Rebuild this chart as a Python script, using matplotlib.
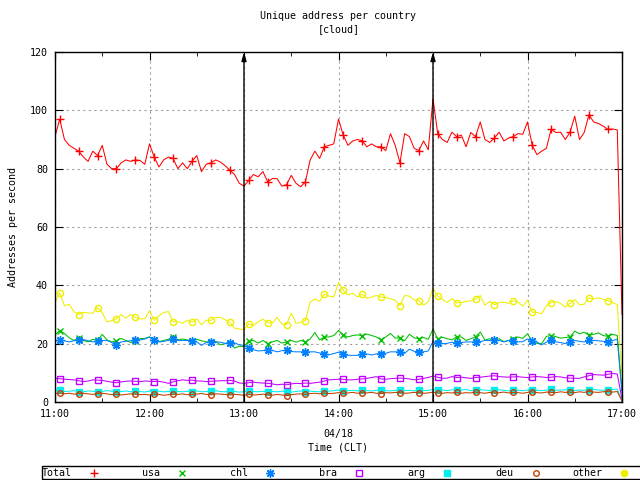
import numpy as np
import pandas as pd
import matplotlib
matplotlib.use("Agg")
import matplotlib.pyplot as plt
import matplotlib.dates as mdates
from matplotlib.lines import Line2D
from matplotlib.patches import Rectangle

# --------------------------
# Data (3 minute samples, 11:00 - 17:00)
# --------------------------
times = pd.date_range("2017-04-18 11:00", "2017-04-18 17:00", freq="3min")

total = [
    91, 97, 90, 88, 87, 86, 84, 82.5, 86, 84.5, 88, 81.5, 80, 80, 82, 83, 82.5, 83, 82.8, 81.5,
    88.5, 84, 80.6, 83, 84, 83.5, 80, 82, 80, 82.5, 84.5, 79, 81.5, 82, 83, 82.3, 81, 79.5, 78, 75,
    74, 76, 78, 77.2, 79, 75.5, 76.6, 76.6, 74, 74.5, 77.7, 75, 73.8, 75.5, 83, 86, 83.5, 87.5, 88, 88.5,
    97, 91.5, 88, 89.5, 90, 89.6, 87.5, 88.5, 87.5, 87.5, 86.2, 92, 88, 82, 92, 91, 87, 86.2, 89.5, 86.5,
    104, 92, 90, 89, 92.5, 91, 91.5, 87.5, 92.4, 91, 96, 90, 89, 90.5, 92.5, 89.5, 90.5, 91, 92, 91.8,
    96, 88, 84.8, 86, 87, 93.5, 92.4, 92.5, 90, 92.5, 98, 90, 92.4, 98.5, 96, 95.5, 94.6, 93.5, 93.6, 93.3,
    30,
]
usa = [
    23, 24.5, 23.5, 22, 21.1, 22, 21.1, 20.6, 21.5, 21.1, 23.2, 21.3, 20.6, 21, 21.8, 21.1, 20.4, 21, 21.7, 21.8,
    22.3, 21.1, 20.7, 21.1, 21.5, 22.3, 21.3, 21.6, 21.3, 20.8, 21.5, 21, 20.6, 20.7, 20.8, 19.6, 20, 20.4, 18.5, 19.1,
    19, 21, 21.1, 20.2, 21.1, 20, 20.6, 21.1, 20.2, 20.6, 21.1, 20.5, 21.1, 20.6, 21.6, 23.8, 21.3, 22.3, 22.3, 22.8,
    24.5, 23, 22.3, 22.8, 23, 22.8, 23.3, 22.8, 22.3, 21.4, 22.3, 23.5, 21.9, 22, 21, 23.2, 22, 21.7, 22.1, 21.5,
    25, 21.7, 22.2, 21.7, 21.3, 22.3, 22.3, 21.1, 21.7, 22.3, 24, 21.2, 21.7, 21.1, 21.7, 20.7, 21.1, 21.7, 22.3, 21.8,
    23.4, 20.8, 20.1, 20, 22.5, 22.8, 22.4, 21.9, 22.1, 22.3, 24.3, 23.4, 23.9, 22.9, 23.2, 23.7, 22.8, 22.5, 23.2, 22.8,
    4,
]
chl = [
    21, 21.1, 21, 20.6, 21, 21.4, 21.4, 21, 20.6, 20.9, 21.1, 21.1, 20.4, 19.4, 20.6, 20.8, 21, 21.1, 21.3, 21.6,
    22.3, 21.1, 20.6, 20.8, 21.1, 21.5, 21.1, 21.1, 21.1, 20.8, 20.6, 19.4, 20.4, 20.6, 20.6, 20.5, 20.1, 20.3, 20.3, 19.6,
    19.4, 18.5, 17.9, 17.5, 17.6, 18, 17.7, 17.2, 17.6, 17.7, 17.3, 17.2, 17.2, 17.2, 17.2, 17.2, 16.8, 16.4, 16.2, 16.6,
    17.1, 16.3, 16, 16, 16, 16.3, 16.5, 16.1, 16.5, 16.6, 16.7, 17.2, 17.2, 17, 16.7, 18.1, 17.4, 17.2, 17.2, 17.5,
    20.8, 20.2, 20, 20.1, 20.5, 20.1, 20.4, 20.6, 20.6, 20.6, 20.7, 21.1, 21.1, 21.1, 21.1, 20.6, 21.1, 20.8, 20.6, 20.7,
    21.6, 20.8, 20.6, 19.6, 20.5, 21.1, 20.6, 20.4, 20, 20.6, 21.1, 20.8, 20.6, 21.1, 21.1, 21, 20.8, 20.6, 21.1, 21.5,
    3,
]
bra = [
    8.1, 8, 7.8, 7.7, 7.6, 7.3, 7, 7.2, 7.6, 7.5, 7.4, 7.1, 6.8, 6.6, 6.9, 7.1, 7.2, 7.1, 7, 7.2,
    7.1, 7, 7.1, 6.8, 6.4, 6.9, 7.3, 7.6, 7.4, 7.5, 7.2, 7.2, 7, 7.1, 7.2, 7.3, 7.3, 7.4, 7.2, 6.5,
    6.4, 6.6, 6.8, 6.6, 6.5, 6.4, 6.2, 5.9, 6.1, 5.9, 6.2, 6.4, 6.3, 6.5, 6.4, 6.6, 6.8, 7.2, 7.6, 7.7,
    7.8, 7.8, 7.6, 7.6, 7.8, 7.9, 8.1, 8.4, 8.7, 7.9, 7.8, 8, 8.1, 8.2, 8.1, 7.9, 7.6, 7.8, 8.1, 8.4,
    8.9, 8.5, 8.1, 8.2, 8.7, 8.4, 8.5, 8.3, 8.1, 8.4, 8.5, 8.7, 8.9, 9, 8.7, 8.6, 8.5, 8.6, 8.7, 8.5,
    8.4, 8.6, 8.7, 8.6, 8.4, 8.5, 8.7, 8.6, 8.3, 8.2, 8.1, 8.1, 8.6, 9, 9.4, 9.3, 9.2, 9.5, 9.8, 9.6,
    1,
]
arg = [
    3.8, 4.0, 3.6, 3.7, 3.9, 3.6, 3.5, 3.8, 3.7, 3.4, 3.6, 3.9, 3.7, 3.5, 3.6, 3.8, 3.5, 3.7, 3.6, 3.4,
    3.8, 3.6, 3.7, 3.5, 3.6, 3.9, 3.6, 3.5, 3.7, 3.6, 3.8, 3.5, 3.6, 3.7, 3.9, 3.6, 3.5, 3.7, 3.6, 3.4,
    3.5, 3.8, 3.6, 3.5, 3.7, 3.4, 3.6, 3.5, 3.7, 3.6, 3.4, 3.6, 3.8, 3.5, 3.7, 3.6, 3.5, 3.8, 3.7, 3.9,
    4.1, 3.8, 3.9, 4.0, 3.8, 4.1, 3.9, 3.8, 4.0, 4.2, 3.9, 3.8, 4.0, 4.1, 3.9, 4.0, 3.8, 4.1, 3.9, 4.0,
    4.3, 4.0, 4.1, 3.9, 4.2, 4.0, 4.1, 4.3, 3.9, 4.0, 4.2, 4.1, 3.9, 4.0, 4.2, 4.0, 3.8, 4.1, 4.0, 3.9,
    4.1, 4.2, 4.0, 3.9, 4.1, 4.3, 4.0, 4.1, 4.2, 4.0, 3.9, 4.1, 4.0, 4.2, 4.3, 4.1, 4.0, 4.2, 4.3, 4.4,
    0.5,
]
deu = [
    2.9, 3.1, 2.8, 3.0, 2.7, 2.9, 3.0, 2.8, 2.6, 2.9, 3.0, 2.8, 2.5, 2.7, 2.4, 2.6, 2.8, 2.7, 2.5, 2.6,
    2.4, 2.7, 2.6, 2.3, 2.5, 2.7, 2.6, 2.8, 2.5, 2.6, 2.7, 2.9, 2.6, 2.5, 2.8, 2.7, 2.6, 2.4, 2.6, 2.5,
    2.3, 2.6, 2.4, 2.5, 2.7, 2.5, 2.3, 2.6, 2.4, 2.2, 2.5, 2.7, 2.8, 2.6, 2.9, 3.0, 2.8, 3.1, 2.9, 3.0,
    3.2, 3.0, 3.1, 3.3, 3.0, 3.2, 3.1, 3.3, 3.0, 2.9, 3.2, 3.1, 3.3, 3.2, 3.0, 3.1, 3.3, 3.2, 3.0, 3.1,
    3.4, 3.1, 3.0, 3.2, 3.1, 3.3, 3.0, 3.2, 3.1, 3.4, 3.2, 3.0, 3.3, 3.1, 3.2, 3.4, 3.1, 3.3, 3.2, 3.0,
    3.3, 3.5, 3.2, 3.1, 3.4, 3.3, 3.2, 3.5, 3.3, 3.4, 3.2, 3.5, 3.3, 3.6, 3.4, 3.3, 3.5, 3.6, 3.4, 3.6,
    0.3,
]
other = [
    34, 37.5, 33, 33.5, 31, 30, 30.7, 30.5, 30.5, 32.4, 30.5, 27.5, 27.9, 28.5, 30, 28.7, 30, 29, 28.5, 28.5,
    31.3, 28, 29.5, 30.7, 31, 27.5, 27.5, 27, 28, 27.3, 28.5, 26.5, 28, 28, 29, 29, 28.2, 27.3, 25.3, 25,
    24.8, 26.8, 26.2, 27.5, 28.4, 27.2, 27.1, 29, 26.8, 26.5, 30.5, 27, 27.3, 27.9, 34.3, 35.3, 34.5, 37, 36.3, 36,
    41, 38.3, 36.7, 37.3, 36, 37, 35.5, 36, 36.5, 36, 35.8, 35.4, 34.9, 33, 36.5, 36.3, 35, 34.7, 33.2, 34.4,
    39, 36.3, 35.2, 34.1, 35.5, 34, 34.1, 34.5, 34.7, 35.3, 36.5, 33.2, 34.5, 33.4, 34.1, 34.2, 33.8, 34.8, 34.3, 32.8,
    35, 30.8, 30.7, 30.3, 33, 34.1, 34.4, 33.8, 32.6, 33.8, 35.1, 33.4, 33.5, 35.7, 35.4, 35.7, 35.2, 34.8, 34.1, 33.4,
    8,
]

names = ["Total", "usa", "chl", "bra", "arg", "deu", "other"]
series = [total, usa, chl, bra, arg, deu, other]
colors = ["#ff0000", "#00c000", "#0080ff", "#c000ff", "#00eeee", "#c04000", "#eeee00"]
markers = ["+", "x", (8, 2, 0), "s", "s", "o", "o"]
sizes = [6, 5, 6, 5, 5, 4, 4.5]
plot_filled = [True, True, True, False, True, False, False]
key_filled = [True, True, True, False, True, False, True]

event_times = [pd.Timestamp("2017-04-18 13:00"), pd.Timestamp("2017-04-18 15:00")]

# --------------------------
# Plotting
# --------------------------
FONT = "DejaVu Sans Mono"
FS = 7.2
plt.rcParams["font.family"] = FONT
plt.rcParams["font.size"] = FS

fig = plt.figure(figsize=(6.4, 4.8), dpi=100)
ax = fig.add_axes([55 / 640, 78 / 480, 567 / 640, 350 / 480])

for vals, c, m, s, f in zip(series, colors, markers, sizes, plot_filled):
    ax.plot(times, vals, color=c, lw=0.75, marker=m, ms=s,
            mfc=c if f else "none", mec=c, mew=1.0, markevery=(1, 4))

for t in event_times:
    ax.annotate("", xy=(t, 120), xytext=(t, 0),
                arrowprops=dict(arrowstyle="-|>,head_length=0.7,head_width=0.2",
                                color="black", lw=1, shrinkA=0, shrinkB=0),
                zorder=10)

ax.set_xlim(times[0], times[-1])
ax.set_ylim(0, 120)
ax.set_yticks(range(0, 121, 20))
ax.xaxis.set_major_locator(mdates.HourLocator())
ax.xaxis.set_minor_locator(mdates.MinuteLocator(byminute=[30]))
ax.xaxis.set_major_formatter(mdates.DateFormatter("%H:%M"))

ax.grid(True, which="major", color="#a0a0a0", linestyle=(0, (2, 3)), lw=0.8)
ax.tick_params(which="both", direction="in", top=True, right=True, labelsize=FS,
               color="black", pad=5)
ax.tick_params(which="major", length=6)
ax.tick_params(which="minor", length=3)
for sp in ax.spines.values():
    sp.set_linewidth(1.0)
    sp.set_zorder(11)

ax.set_title("Unique address per country\n[cloud]", fontsize=FS, pad=14, linespacing=1.5)
ax.set_xlabel("04/18\nTime (CLT)", fontsize=FS, labelpad=7, linespacing=1.5)
ax.set_ylabel("Addresses per second", fontsize=FS, labelpad=9)

# gnuplot style key: label then marker, in a box along the bottom
fig.add_artist(Rectangle((42 / 640, 1 / 480), 640 / 640, 13 / 480, transform=fig.transFigure,
                         fill=False, lw=1.0, edgecolor="black"))
for i, (name, c, m, s, f) in enumerate(zip(names, colors, markers, sizes, key_filled)):
    mx = (93.5 + i * 88.4) / 640
    fig.text(mx - 22 / 640, 7.5 / 480, name, ha="right", va="center", fontsize=FS)
    fig.add_artist(Line2D([mx], [7.5 / 480], transform=fig.transFigure, marker=m, ms=s,
                          color=c, mfc=c if f else "none", mec=c, mew=1.0, linestyle="none"))

fig.savefig("out.png", dpi=100)
